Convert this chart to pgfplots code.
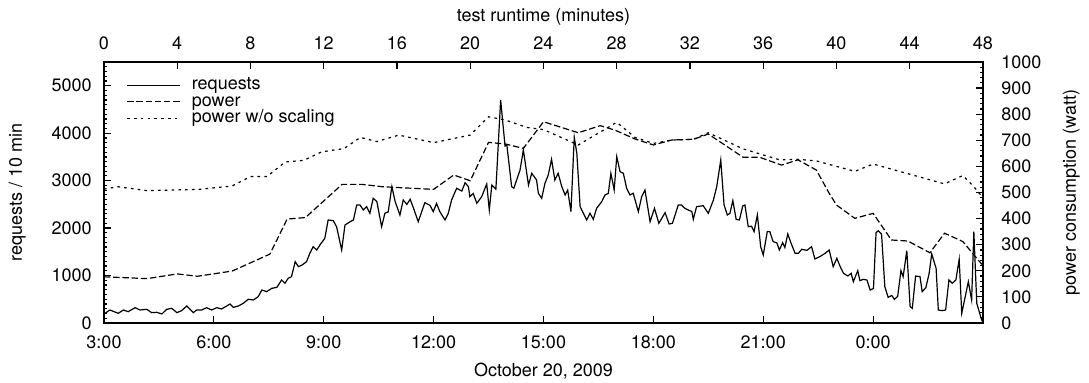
\documentclass[border=0pt]{standalone}
\usepackage{fontspec}
\setmainfont{TeX Gyre Heros}
\usepackage{pgfplots}
\pgfplotsset{compat=1.18}
\usepackage{pgfplotstable}

% requests per 10 min, x = hour of day (3 = 3:00, 27 = 3:00 next day)
\pgfplotstableread{
h r
3.03 204
3.16 274
3.39 204
3.53 274
3.66 239
3.85 323
3.98 274
4.17 288
4.30 218
4.44 225
4.58 190
4.71 288
4.85 309
4.99 218
5.12 260
5.26 358
5.44 218
5.53 274
5.67 274
5.80 323
5.94 274
6.08 323
6.21 295
6.35 358
6.44 400
6.53 330
6.67 358
6.80 414
6.94 499
7.08 485
7.21 555
7.31 695
7.44 660
7.58 730
7.72 751
7.85 906
7.94 836
8.03 942
8.12 976
8.22 1292
8.31 1187
8.41 1222
8.53 1292
8.62 1469
8.71 1608
8.81 1538
8.90 1650
9.03 1785
9.12 2171
9.26 2156
9.35 2030
9.49 1538
9.58 2065
9.72 2135
9.81 2170
9.90 2487
9.99 2487
10.08 2381
10.17 2450
10.26 2312
10.35 2628
10.45 2560
10.58 2030
10.67 2312
10.76 2340
10.86 2873
10.95 2557
11.08 2276
11.17 2592
11.27 2500
11.36 2607
11.45 2420
11.58 2135
11.76 2535
11.90 2480
11.99 2346
12.08 2520
12.17 2346
12.31 2171
12.40 2310
12.49 2592
12.63 2839
12.77 2780
12.86 2957
12.95 2870
12.99 2662
13.08 2730
13.18 2523
13.31 2660
13.45 2929
13.52 2381
13.59 2908
13.70 2818
13.83 4700
13.95 3730
14.00 3750
14.13 2873
14.19 2840
14.36 3224
14.45 3646
14.59 2908
14.68 3155
14.81 3014
14.86 2733
14.95 2628
15.04 2944
15.13 3119
15.22 3450
15.31 3014
15.40 3155
15.50 2873
15.59 2698
15.66 2800
15.75 2346
15.84 3914
15.91 3577
16.00 2452
16.18 2171
16.27 2312
16.36 2185
16.45 2417
16.59 2557
16.68 2698
16.77 2733
16.84 3155
16.93 2803
17.00 3505
17.09 3189
17.18 3155
17.27 2839
17.36 2698
17.45 2733
17.59 2346
17.68 2662
17.77 2803
17.91 2135
18.03 2417
18.15 2101
18.32 2325
18.43 2086
18.52 2100
18.68 2487
18.77 2487
18.86 2417
18.95 2381
19.05 2350
19.09 2185
19.18 2451
19.36 2472
19.50 2312
19.64 2592
19.73 2873
19.84 3435
19.93 2487
20.02 2276
20.09 2310
20.17 2578
20.26 2185
20.35 2170
20.44 2466
20.50 2487
20.59 2030
20.68 2040
20.75 1925
20.84 2276
20.93 1608
21.00 1433
21.11 1925
21.18 1925
21.27 1714
21.37 1690
21.44 1538
21.53 1692
21.59 1590
21.67 1876
21.76 1680
21.87 1469
21.96 1469
22.05 1553
22.19 1530
22.32 1608
22.41 1349
22.55 1400
22.69 1469
22.80 1538
22.91 1187
23.01 1363
23.10 1190
23.19 1047
23.31 990
23.40 1047
23.46 871
23.58 1103
23.64 892
23.73 920
23.83 906
23.92 695
24.01 730
24.08 1903
24.14 1946
24.23 1876
24.32 765
24.41 541
24.51 580
24.58 499
24.67 560
24.76 1103
24.82 976
24.92 1524
25.01 344
25.07 309
25.16 990
25.28 976
25.34 660
25.44 744
25.53 1047
25.60 1454
25.72 1152
25.78 274
25.88 260
25.98 274
26.07 906
26.16 836
26.26 906
26.35 1342
26.42 205
26.53 611
26.60 871
26.69 485
26.75 1925
26.83 415
26.95 100
27.00 0
}\requests

% power with scaling, x = test runtime (minutes), y = watt
\pgfplotstableread{
m w
0 177
2.35 170
4.0 188
5.1 179
7.0 199
9.06 264
10.0 398
11.0 404
13.0 531
14.1 531
15.2 522
18.0 512
19.1 567
20.0 545
21.0 692
21.9 686
22.9 669
24.0 771
25.9 729
27.1 756
27.9 739
29.0 705
30.0 682
31.0 701
32.2 704
33.0 724
34.9 635
35.8 635
37.0 605
37.9 625
38.9 586
39.6 497
40.0 452
41.0 401
42.0 420
43.0 318
43.9 314
45.1 269
45.9 344
46.9 312
47.5 261
48.0 220
}\power

% power without scaling
\pgfplotstableread{
m w
0 513
0.77 522
2.35 507
5.2 512
7.0 525
8.0 561
8.9 561
9.9 617
10.9 623
11.9 656
13.1 668
14.0 711
14.9 695
16.1 720
18.0 691
20.0 720
21.0 790
21.9 778
23.1 749
24.0 741
25.9 682
28.0 769
29.0 711
30.0 688
31.0 701
32.2 704
33.0 729
34.9 667
36.9 625
37.9 627
38.9 621
41.0 581
42.0 609
45.9 533
46.9 565
47.5 522
48.0 480
}\powerns

\begin{document}
\fontsize{9pt}{11pt}\selectfont
\begin{tikzpicture}
\pgfplotsset{
  common/.style={
    scale only axis, width=439.5pt, height=130.5pt,
    at={(0pt,0pt)}, anchor=south west,
    axis line style={line width=0.8pt},
    every tick/.style={black, line width=0.6pt},
    major tick length=3.5pt, minor tick length=1.7pt,
    /pgf/number format/assume math mode=true,
    /pgf/number format/1000 sep={},
    tick label style={font=\fontsize{9pt}{11pt}\selectfont},
    label style={font=\fontsize{9pt}{11pt}\selectfont},
  },
}
\begin{axis}[common,
  xmin=3, xmax=27, ymin=0, ymax=5500,
  xtick={3,6,9,12,15,18,21,24},
  xticklabels={3:00,6:00,9:00,12:00,15:00,18:00,21:00,0:00},
  ytick={0,1000,2000,3000,4000,5000},
  minor ytick={0,100,...,5500},
  xtick pos=left, ytick pos=left,
  xticklabel style={anchor=base, inner sep=0pt, yshift=-12.65pt},
  yticklabel style={anchor=east, inner sep=0pt, xshift=-6pt},
  xlabel={October 20, 2009},
  xlabel style={at={(axis description cs:0.5,0)}, anchor=base, inner sep=0pt, yshift=-26.75pt},
  ylabel={requests / 10 min},
  ylabel style={at={(axis description cs:-0.0933,0.5)}, anchor=base, inner sep=0pt},
]
\addplot[black, line width=0.6pt] table[x=h, y=r] {\requests};
\end{axis}
\begin{axis}[common,
  xmin=0, xmax=48, ymin=0, ymax=1000,
  xtick={0,4,...,48},
  ytick={0,100,...,1000},
  minor ytick={0,20,...,1000},
  xtick pos=right, ytick pos=right,
  xticklabel pos=right, yticklabel pos=right,
  xticklabel style={anchor=base, inner sep=0pt, yshift=6pt},
  yticklabel style={anchor=west, inner sep=0pt, xshift=9pt},
  xlabel={test runtime (minutes)},
  xlabel style={at={(axis description cs:0.5,1)}, anchor=base, inner sep=0pt, yshift=20.15pt},
  ylabel={power consumption (watt)},
  ylabel style={at={(axis description cs:1.1058,0.5)}, anchor=base, inner sep=0pt},
  legend cell align=left,
  legend image code/.code={\draw[#1] (0pt,0pt) -- (26.3pt,0pt);},
  legend style={at={(axis description cs:0,1)}, anchor=north west,
    xshift=11.35pt, yshift=-7.35pt, draw=none, fill=none,
    inner sep=0pt, outer sep=0pt, row sep=-0.25pt, column sep=5.7pt,
    nodes={inner sep=0pt, text height=6.5pt, text depth=2pt,
      font=\fontsize{9pt}{11pt}\selectfont}},
]
\addlegendimage{black, line width=0.6pt}
\addlegendentry{requests}
\addplot[black, line width=0.6pt, dash pattern=on 3.2pt off 1.4pt] table[x=m, y=w] {\power};
\addlegendentry{power}
\addplot[black, line width=0.6pt, dash pattern=on 1.3pt off 2.1pt] table[x=m, y=w] {\powerns};
\addlegendentry{power w/o scaling}
\end{axis}
\pgfresetboundingbox
\useasboundingbox (-52pt,-30pt) rectangle (492.5pt,161.5pt);
\end{tikzpicture}
\end{document}
